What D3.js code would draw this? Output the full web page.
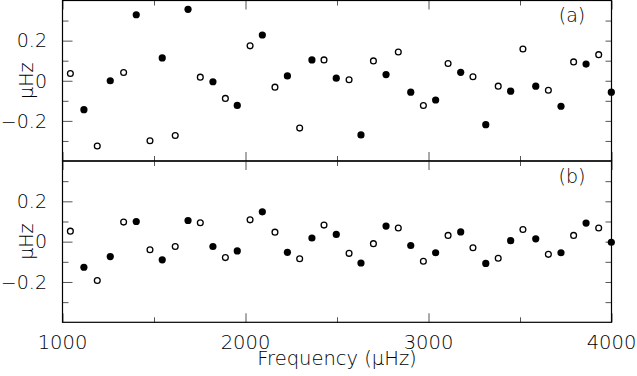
<!DOCTYPE html>
<html><head><meta charset="utf-8">
<script src="https://cdn.jsdelivr.net/npm/d3@7"></script>
<style>html,body{margin:0;padding:0;background:#fff;} svg{display:block;}</style>
</head><body>
<script>
const freqOpen = [1043,1190,1334,1478,1616,1753,1890,2025,2161,2296,2429,2566,2699,2835,2972,3107,3243,3381,3516,3655,3793,3930];
const freqFilled = [1117,1261,1403,1545,1686,1822,1955,2092,2229,2363,2496,2631,2768,2903,3039,3176,3313,3449,3586,3724,3861,3999];
const topOpen = [0.036,-0.325,0.041,-0.299,-0.273,0.018,-0.088,0.174,-0.032,-0.236,0.104,0.005,0.099,0.143,-0.123,0.086,0.020,-0.027,0.158,-0.047,0.094,0.130];
const topFilled = [-0.144,0.0,0.329,0.114,0.356,-0.005,-0.123,0.228,0.024,0.104,0.013,-0.270,0.031,-0.057,-0.096,0.042,-0.219,-0.052,-0.027,-0.127,0.083,-0.057];
const bottomOpen = [0.052,-0.193,0.097,-0.040,-0.024,0.094,-0.079,0.108,0.047,-0.085,0.082,-0.058,-0.010,0.068,-0.097,0.031,-0.030,-0.082,0.060,-0.063,0.031,0.068];
const bottomFilled = [-0.127,-0.074,0.100,-0.090,0.105,-0.024,-0.046,0.148,-0.053,0.018,0.036,-0.106,0.077,-0.019,-0.055,0.048,-0.108,0.005,0.014,-0.055,0.092,-0.003];
const xMajor = [1000,2000,3000,4000];
const xMinor = [1500,2500,3500];
const yMajor = [0.2,0,-0.2];
const yMinor = [0.3,0.1,-0.1,-0.3];
const yLabels = ["0.2","0","\u22120.2"];
const panelNames = ["(a)","(b)"];
const xTitle = "Frequency (\u03bcHz)";
const yTitle = "\u03bcHz";

const W = 637, H = 376;
const L = 62.5, R = 611.5;
const svg = d3.select("body").append("svg").attr("width", W).attr("height", H);
const x = d3.scaleLinear().domain([1000,4000]).range([L,R]);
const font = "'DejaVu Sans', sans-serif";
const fw = 200;
const txtColor = "#000";
const tickColor = "#555";

const panels = [
  {top:0.5, bottom:161, open:topOpen, filled:topFilled, name:panelNames[0]},
  {top:161, bottom:322.3, open:bottomOpen, filled:bottomFilled, name:panelNames[1]}
];

function tickAxis(g, axis) {
  g.call(axis);
  g.select(".domain").remove();
  g.selectAll(".tick line").attr("stroke", tickColor).attr("stroke-width", 1);
  g.selectAll(".tick text").remove();
}

panels.forEach(p => {
  const y = d3.scaleLinear().domain([-0.4,0.4]).range([p.bottom,p.top]);
  const g = svg.append("g");
  tickAxis(g.append("g").attr("transform",`translate(0,${p.bottom})`),
    d3.axisTop(x).tickValues(xMajor).tickSize(9).tickFormat(""));
  tickAxis(g.append("g").attr("transform",`translate(0,${p.bottom})`),
    d3.axisTop(x).tickValues(xMinor).tickSize(5).tickFormat(""));
  tickAxis(g.append("g").attr("transform",`translate(0,${p.top})`),
    d3.axisBottom(x).tickValues(xMajor).tickSize(9).tickFormat(""));
  tickAxis(g.append("g").attr("transform",`translate(0,${p.top})`),
    d3.axisBottom(x).tickValues(xMinor).tickSize(5).tickFormat(""));
  tickAxis(g.append("g").attr("transform",`translate(${L},0)`),
    d3.axisRight(y).tickValues(yMajor).tickSize(10).tickFormat(""));
  tickAxis(g.append("g").attr("transform",`translate(${L},0)`),
    d3.axisRight(y).tickValues(yMinor).tickSize(6).tickFormat(""));
  tickAxis(g.append("g").attr("transform",`translate(${R},0)`),
    d3.axisLeft(y).tickValues(yMajor.concat(yMinor)).tickSize(6).tickFormat(""));

  g.append("rect").attr("x",L).attr("y",p.top).attr("width",R-L).attr("height",p.bottom-p.top)
    .attr("fill","none").attr("stroke","#000").attr("stroke-width",1.2);

  g.selectAll(".ylab").data(yMajor).enter().append("text")
    .attr("x",47).attr("y",d=>y(d)).attr("dy","0.36em")
    .attr("text-anchor","end").attr("font-family",font).attr("font-weight",fw).attr("font-size",19)
    .attr("fill",txtColor).text((d,i)=>yLabels[i]);
  g.append("text").attr("transform",`translate(33,${y(0)}) rotate(-90)`)
    .attr("text-anchor","middle").attr("font-family",font).attr("font-weight",fw).attr("font-size",19)
    .attr("fill",txtColor).text(yTitle);
  g.append("text").attr("x",572).attr("y",p.top+15).attr("dy","0.36em")
    .attr("text-anchor","middle").attr("font-family",font).attr("font-weight",fw).attr("font-size",19)
    .attr("fill",txtColor).text(p.name);

  g.selectAll(".op").data(p.open).enter().append("circle")
    .attr("cx",(d,i)=>x(freqOpen[i])).attr("cy",d=>y(d)).attr("r",2.9)
    .attr("fill","#fff").attr("stroke","#000").attr("stroke-width",1.3);
  g.selectAll(".fp").data(p.filled).enter().append("circle")
    .attr("cx",(d,i)=>x(freqFilled[i])).attr("cy",d=>y(d)).attr("r",3.6)
    .attr("fill","#000");
});

svg.selectAll(".xlab").data(xMajor).enter().append("text")
  .attr("x",d=>x(d)).attr("y",348.5).attr("text-anchor","middle")
  .attr("font-family",font).attr("font-weight",fw).attr("font-size",19.5).attr("fill",txtColor).text(d=>d);
svg.append("text").attr("x",(L+R)/2).attr("y",365).attr("text-anchor","middle")
  .attr("font-family",font).attr("font-weight",fw).attr("font-size",19.5).attr("fill",txtColor).text(xTitle);
</script>
</body></html>
